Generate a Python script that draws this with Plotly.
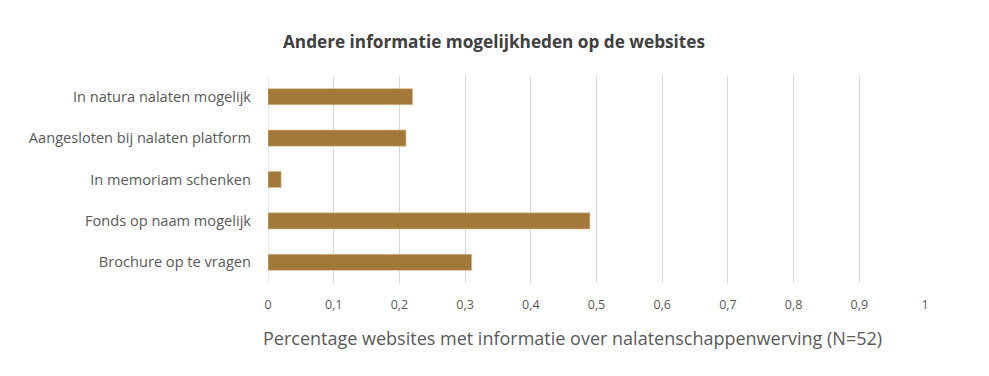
import plotly.graph_objects as go

categories = [
    "Brochure op te vragen",
    "Fonds op naam mogelijk",
    "In memoriam schenken",
    "Aangesloten bij nalaten platform",
    "In natura nalaten mogelijk",
]
values = [0.31, 0.49, 0.02, 0.21, 0.22]
tick_vals = [0, 0.1, 0.2, 0.3, 0.4, 0.5, 0.6, 0.7, 0.8, 0.9, 1]
tick_text = ["0", "0,1", "0,2", "0,3", "0,4", "0,5", "0,6", "0,7", "0,8", "0,9", "1"]
x_title = "Percentage websites met informatie over nalatenschappenwerving (N=52)"

FONT = "'Open Sans', Lato, sans-serif"

fig = go.Figure(
    go.Bar(
        x=values,
        y=categories,
        orientation="h",
        width=0.39,
        marker=dict(color="#A47838", line=dict(color="#D9BE96", width=0.6)),
    )
)

# page body has an 8px margin; compensate so marks land where the reference has them
fig.update_layout(
    width=989,
    height=376,
    paper_bgcolor="white",
    plot_bgcolor="white",
    margin=dict(l=260, r=72, t=68, b=101),
    showlegend=False,
    title=dict(
        text="<b>Andere informatie mogelijkheden op de websites</b>",
        x=486 / 989,
        xanchor="center",
        y=1 - 34 / 376,
        yanchor="middle",
        font=dict(family=FONT, size=17.2, color="#404040"),
    ),
    font=dict(family=FONT, color="#595959"),
)

fig.update_xaxes(
    range=[0, 1],
    tickvals=tick_vals,
    ticktext=tick_text,
    showgrid=True,
    gridcolor="#D9D9D9",
    gridwidth=1,
    zeroline=False,
    showline=False,
    ticks="",
    ticklabelstandoff=12,
    tickfont=dict(family=FONT, size=12.5, color="#595959"),
)

fig.update_yaxes(
    showgrid=False,
    zeroline=False,
    showline=False,
    ticks="",
    ticklabelstandoff=16,
    tickfont=dict(family=FONT, size=14.6, color="#595959"),
)

fig.add_annotation(
    text=x_title,
    xref="paper", yref="paper",
    x=(572 - 268) / 657, y=(283 - 338) / 207,
    xanchor="center", yanchor="middle",
    showarrow=False,
    font=dict(family=FONT, size=18, color="#595959"),
)

fig.add_shape(
    type="line", xref="x", yref="paper", x0=0, x1=0, y0=0, y1=1,
    line=dict(color="#D9D9D9", width=1), layer="below",
)

fig.write_html("out.html")
